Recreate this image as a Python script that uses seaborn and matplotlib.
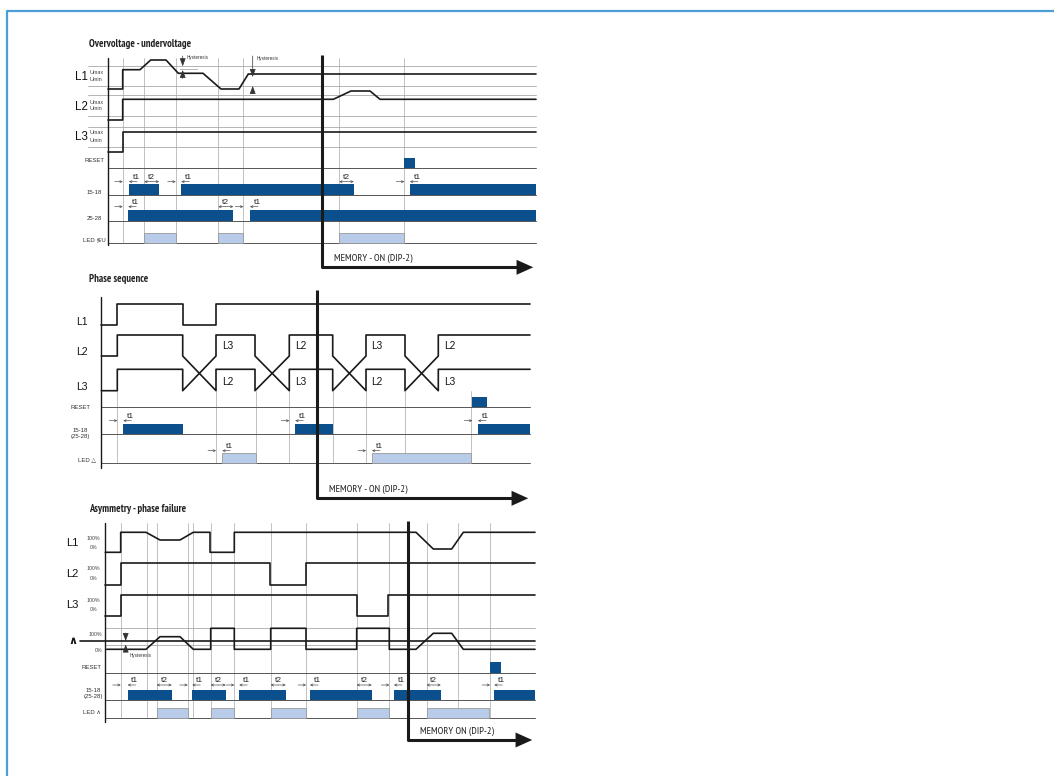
import matplotlib
matplotlib.use("Agg")
import matplotlib.pyplot as plt
import seaborn as sns

# ---- overvoltage / undervoltage (x = time position, y = level, in picture px)
ov_L1_x = [108, 122.7, 122.7, 140, 150.7, 166, 178.3, 203, 221, 239, 248.3, 536]
ov_L1_y = [89, 89, 69.7, 69.7, 60, 60, 73.3, 73.3, 89, 89, 74, 74]
ov_L2_x = [108, 122.7, 122.7, 333.3, 351, 370, 380, 536]
ov_L2_y = [120, 120, 99.3, 99.3, 91, 91, 99.3, 99.3]
ov_L3_x = [108, 122.7, 122.7, 536]
ov_L3_y = [151.7, 151.7, 131.7, 131.7]
ov_levels = [65.5, 86, 95, 116, 127, 146.5]
ov_reset = [(404.3, 415)]
ov_1518 = [(129, 159), (181.3, 353.7), (410, 536)]
ov_2528 = [(128.3, 233.3), (250, 536)]
ov_led = [(144.3, 175.7), (218.3, 243.3), (339.3, 404.3)]
ov_t_1518 = [("t1", 122.7, 129), ("t2", 144.3, 159), ("t1", 175.7, 181.3),
             ("t2", 339.3, 353.7), ("t1", 404.3, 410)]
ov_t_2528 = [("t1", 122.7, 128.3), ("t2", 218.3, 233.3), ("t1", 243.3, 250)]
ov_marks = [122.7, 144.3, 175.7, 218.3, 243.3, 339.3, 404.3]

# ---- phase sequence
ps_L1_x = [101.3, 117.3, 117.3, 182.7, 182.7, 216, 216, 530]
ps_L1_y = [325, 325, 304.3, 304.3, 325, 325, 304.3, 304.3]
ps_A_x = [101.3, 117.3, 117.3, 182.7, 182.7, 216, 216, 255, 255, 289.3,
          289.3, 332.7, 332.7, 366, 366, 405, 405, 438.3, 438.3, 530]
ps_A_y = [356, 356, 335, 335, 356, 390.7, 369.3, 369.3, 390.7, 356,
          335, 335, 356, 390.7, 369.3, 369.3, 390.7, 356, 335, 335]
ps_B_y = [390.7, 390.7, 369.3, 369.3, 390.7, 356, 335, 335, 356, 390.7,
          369.3, 369.3, 390.7, 356, 335, 335, 356, 390.7, 369.3, 369.3]
ps_names = [(227.7, "L3", "L2"), (300.7, "L2", "L3"), (377, "L3", "L2"), (450, "L2", "L3")]
ps_reset = [(472.3, 486.7)]
ps_out = [(123.3, 182.7), (295.3, 332.7), (478, 530)]
ps_led = [(222.3, 255.7), (372, 471)]
ps_t_out = [("t1", 117.3, 123.3), ("t1", 289.3, 295.3), ("t1", 472.3, 478)]
ps_t_led = [("t1", 216, 222.3), ("t1", 366, 372)]
ps_marks = [117.3, 216, 255.7, 289.3, 332.7, 366, 405, 471]

# ---- asymmetry / phase failure
as_L1_x = [105.3, 120.7, 120.7, 146, 160, 180, 193.3, 210, 210, 234.3, 234.3,
           416, 433.3, 451.7, 463.3, 535]
as_L1_y = [552.3, 552.3, 532.3, 532.3, 540, 540, 532.3, 532.3, 552.3, 552.3,
           532.3, 532.3, 549, 549, 532.3, 532.3]
as_L2_x = [105.3, 120.7, 120.7, 270, 270, 306, 306, 535]
as_L2_y = [585, 585, 563.3, 563.3, 585, 585, 563.3, 563.3]
as_L3_x = [105.3, 120.7, 120.7, 356.7, 356.7, 388.3, 388.3, 535]
as_L3_y = [616, 616, 595.3, 595.3, 616, 616, 595.3, 595.3]
as_S_x = [106.7, 146, 160, 180, 193.3, 210.7, 210.7, 234.3, 234.3, 270.7, 270.7,
          306, 306, 356.7, 356.7, 389.3, 389.3, 416, 433.3, 451.7, 463.3, 535]
as_S_y = [649.3, 649.3, 636.7, 636.7, 649.3, 649.3, 628.3, 628.3, 649.3, 649.3,
          628.3, 628.3, 649.3, 649.3, 628.3, 628.3, 649.3, 649.3, 633.3, 633.3,
          649.3, 649.3]
as_reset = [(490, 500.7)]
as_out = [(127.7, 171.7), (192.3, 225.7), (239.3, 285.7), (310, 371.7),
          (394, 440.7), (494.3, 535)]
as_led = [(156.7, 187.7), (210.7, 234.3), (270.7, 305.7), (357.3, 389.3), (426.7, 489.3)]
as_t = [("t1", 120.7, 127.7), ("t2", 156.7, 171.7), ("t1", 187.7, 192.3),
        ("t2", 210.7, 225.7), ("t1", 234.3, 239.3), ("t2", 270.7, 285.7),
        ("t1", 306, 310), ("t2", 356.7, 371.7), ("t1", 389.3, 394),
        ("t2", 426.7, 440.7), ("t1", 490, 494.3)]
as_marks = [120.7, 147.3, 156.7, 187.7, 193.3, 210.7, 234.3, 270.7, 306,
            356.7, 389.3, 426.7, 458.3, 490]

sns.set_theme(style="white")
plt.rcParams["font.family"] = ["Liberation Sans", "DejaVu Sans"]
NARROW = ["Liberation Sans Narrow", "PT Sans Narrow", "Archivo Narrow", "DejaVu Sans"]

DARK = "#0b4f8c"
LIGHT = "#b8cbe9"
GRAY = "#a8a8a8"
LINE = "#1a1a1a"
ARW = dict(arrowstyle="->", lw=0.45, color="#444", mutation_scale=4, shrinkA=0, shrinkB=0)

fig = plt.figure(figsize=(10.54, 7.76), dpi=100)
ax = fig.add_axes([0, 0, 1, 1])
ax.set_xlim(0, 1054)
ax.set_ylim(776, 0)
ax.axis("off")

# outer frame
ax.plot([7, 7, 1054], [776, 11, 11], color="#4b9fd6", lw=1.6)


def wave(xs, ys, lw=1.2, color=LINE):
    sns.lineplot(x=xs, y=ys, sort=False, estimator=None, color=color, lw=lw, ax=ax)


def bars(spans, top, base, color, edge=None):
    for a, b in spans:
        ax.bar(a, top - base, width=b - a, bottom=base, align="edge", color=color,
               edgecolor=edge if edge else color, lw=0.6 if edge else 0, zorder=3)


def timing(items, y):
    for name, a, b in items:
        if name == "t1":
            ax.annotate("", xy=(a, y), xytext=(a - 8, y), arrowprops=ARW)
            ax.annotate("", xy=(b, y), xytext=(b + 8, y), arrowprops=ARW)
            ax.text(b + 7, y - 1, name, fontsize=6, ha="center", va="bottom", color="#222")
        else:
            m = (a + b) / 2
            ax.annotate("", xy=(a, y), xytext=(m, y), arrowprops=ARW)
            ax.annotate("", xy=(b, y), xytext=(m, y), arrowprops=ARW)
            ax.text(m, y - 1, name, fontsize=6, ha="center", va="bottom", color="#222")


def memory(x, y0, y1, x1, label):
    ax.plot([x, x, x1 - 10], [y0, y1, y1], color=LINE, lw=2.2, solid_capstyle="butt", zorder=5)
    ax.annotate("", xy=(x1, y1), xytext=(x1 - 14, y1),
                arrowprops=dict(arrowstyle="-|>,head_length=1.0,head_width=0.45",
                                lw=0, color=LINE, mutation_scale=12), zorder=5)
    ax.text(x + 12, y1 - 9, label, fontsize=7.5, family=NARROW, ha="left", va="center",
            color="#222")


def hyst(x, top_tip, bottom_tip, text_y, y_top, y_bot):
    hp = dict(arrowstyle="-|>,head_length=0.4,head_width=0.15", lw=0.5, color="#333",
              shrinkA=0, shrinkB=0)
    ax.annotate("", xy=(x, top_tip), xytext=(x, y_top), arrowprops=hp)
    ax.annotate("", xy=(x, bottom_tip), xytext=(x, y_bot), arrowprops=hp)
    ax.text(x + 4, text_y, "Hysteresis", fontsize=3.3, ha="left", va="center", color="#333")


# ================= section 1
ax.text(89, 44, "Overvoltage - undervoltage", fontsize=7.6, family=NARROW,
        fontweight="semibold", ha="left", va="center", color="#222")
for y in ov_levels:
    ax.plot([88, 536], [y, y], color=GRAY, lw=0.6)
ax.plot([180, 197], [69.3, 69.3], color=GRAY, lw=0.6)
for x in ov_marks:
    ax.plot([x, x], [58, 243.3], color=GRAY, lw=0.5)
for y in [168.3, 195, 220.7, 243.3]:
    ax.plot([108, 536], [y, y], color="#555", lw=0.7)
ax.plot([108, 108], [58, 245], color=LINE, lw=1.0)
wave(ov_L1_x, ov_L1_y)
wave(ov_L2_x, ov_L2_y)
wave(ov_L3_x, ov_L3_y)
bars(ov_reset, 157.7, 168.3, DARK)
bars(ov_1518, 184, 195, DARK)
bars(ov_2528, 210, 220.7, DARK)
bars(ov_led, 232.7, 243.3, LIGHT, edge="#999")
timing(ov_t_1518, 181.7)
timing(ov_t_2528, 206.7)
hyst(182.7, 66.3, 70, 57.7, 56, 78.5)
hyst(252.7, 77, 86, 58.7, 56, 92)
for name, y in [("L1", 77), ("L2", 106.5), ("L3", 137.5)]:
    ax.text(81.5, y, name, fontsize=8.3, ha="center", va="center", color="#111")
    ax.text(90, y - 4.5, "Umax", fontsize=4, ha="left", va="center", color="#444")
    ax.text(90, y + 2.5, "Umin", fontsize=4, ha="left", va="center", color="#444")
for lab, y in [("RESET", 160.7), ("15-18", 192.7), ("25-28", 218.3), ("LED \u2276U", 240)]:
    ax.text(94.5, y, lab, fontsize=4.3, ha="center", va="center", color="#333")
memory(321.7, 55, 267.3, 536, "MEMORY - ON (DIP-2)")

# ================= section 2
ax.text(89, 279.3, "Phase sequence", fontsize=7.6, family=NARROW, fontweight="semibold",
        ha="left", va="center", color="#222")
for x in ps_marks:
    ax.plot([x, x], [391, 463.3], color=GRAY, lw=0.5)
for y in [407.3, 434.3, 463.3]:
    ax.plot([101.3, 530], [y, y], color="#555", lw=0.7)
ax.plot([101.3, 101.3], [297, 468.3], color=LINE, lw=1.0)
wave(ps_L1_x, ps_L1_y)
wave(ps_A_x, ps_A_y)
wave(ps_A_x, ps_B_y)
for x, up, low in ps_names:
    ax.text(x, 346, up, fontsize=7.2, ha="center", va="center", color="#111")
    ax.text(x, 382, low, fontsize=7.2, ha="center", va="center", color="#111")
bars(ps_reset, 396.7, 407.3, DARK)
bars(ps_out, 424.3, 434.3, DARK)
bars(ps_led, 453.3, 463.3, LIGHT, edge="#999")
timing(ps_t_out, 420.7)
timing(ps_t_led, 450.7)
for name, y in [("L1", 321.7), ("L2", 351.7), ("L3", 386.7)]:
    ax.text(82.3, y, name, fontsize=7.5, ha="center", va="center", color="#111")
ax.text(80.7, 407.3, "RESET", fontsize=4.3, ha="center", va="center", color="#333")
ax.text(80.7, 431, "15-18", fontsize=4.3, ha="center", va="center", color="#333")
ax.text(80.7, 436.7, "(25-28)", fontsize=4.3, ha="center", va="center", color="#333")
ax.text(87, 460, "LED \u25b3", fontsize=4.3, ha="center", va="center", color="#333")
memory(316.7, 290, 498.3, 531, "MEMORY - ON (DIP-2)")

# ================= section 3
ax.text(89, 509.3, "Asymmetry - phase failure", fontsize=7.6, family=NARROW,
        fontweight="semibold", ha="left", va="center", color="#222")
for x in as_marks:
    ax.plot([x, x], [523, 718.3], color=GRAY, lw=0.5)
ax.plot([105.3, 535], [628.3, 628.3], color=GRAY, lw=0.6)
ax.plot([105.3, 535], [644.5, 644.5], color=GRAY, lw=0.6)
ax.plot([80, 535], [641, 641], color=LINE, lw=1.2)
for y in [672.7, 700, 718.3]:
    ax.plot([105.3, 535], [y, y], color="#555", lw=0.7)
ax.plot([105.3, 105.3], [523, 721.7], color=LINE, lw=1.0)
wave(as_L1_x, as_L1_y)
wave(as_L2_x, as_L2_y)
wave(as_L3_x, as_L3_y)
wave(as_S_x, as_S_y)
bars(as_reset, 662.3, 672.7, DARK)
bars(as_out, 690, 700, DARK)
bars(as_led, 708.3, 718.3, LIGHT, edge="#999")
timing(as_t, 685)
hyst(125.7, 641, 644.5, 655.7, 633, 652)
for name, y in [("L1", 543.3), ("L2", 574), ("L3", 605)]:
    ax.text(72.7, y, name, fontsize=8, ha="center", va="center", color="#111")
    ax.text(93.3, y - 5, "100%", fontsize=3.8, ha="center", va="center", color="#444")
    ax.text(93.3, y + 4.5, "0%", fontsize=3.8, ha="center", va="center", color="#444")
ax.text(72.7, 641.5, "\u2227", fontsize=8, fontweight="bold", ha="center", va="center", color="#111")
ax.text(95, 635, "100%", fontsize=3.8, ha="center", va="center", color="#444")
ax.text(98.3, 650, "0%", fontsize=3.8, ha="center", va="center", color="#444")
ax.text(91.7, 667.7, "RESET", fontsize=4.3, ha="center", va="center", color="#333")
ax.text(93.3, 690, "15-18", fontsize=4.3, ha="center", va="center", color="#333")
ax.text(93.3, 696.7, "(25-28)", fontsize=4.3, ha="center", va="center", color="#333")
ax.text(91.7, 712.7, "LED \u2227", fontsize=4.3, ha="center", va="center", color="#333")
memory(407.7, 520.7, 740, 535, "MEMORY ON (DIP-2)")

fig.savefig("out.png", dpi=100)
